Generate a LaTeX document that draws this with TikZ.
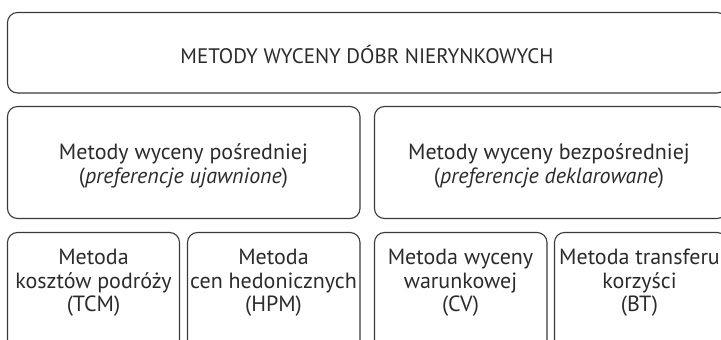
\documentclass[tikz,border=0pt]{standalone}
\usepackage{fontspec}
\setmainfont{PT Sans}
\definecolor{linegray}{HTML}{3A3A3A}
\definecolor{textgray}{HTML}{2B2B2B}
\begin{document}
\begin{tikzpicture}[x=1pt,y=-1pt,
  box/.style={draw=linegray, line width=1.1pt, rounded corners=10pt, inner sep=0pt, outer sep=0pt, anchor=north west},
  txt/.style={text=textgray, font=\fontsize{22}{23.5}\selectfont, align=center, inner sep=0pt},
  title/.style={text=textgray, font=\fontsize{21}{24}\selectfont, inner sep=0pt}]
\useasboundingbox (0,0) rectangle (721,340);
\clip (0,0) rectangle (721,340);
% boxes
\node[box, minimum width=719.5pt, minimum height=80.5pt] (top) at (7.5,12.5) {};
\node[box, minimum width=352.5pt, minimum height=112pt] (ind) at (7.5,106.5) {};
\node[box, minimum width=352.5pt, minimum height=112pt] (dir) at (374.5,106.5) {};
\node[box, minimum width=172pt, minimum height=120pt] (tcm) at (7.5,232.5) {};
\node[box, minimum width=172.5pt, minimum height=120pt] (hpm) at (187.5,232.5) {};
\node[box, minimum width=172.5pt, minimum height=120pt] (cv) at (374.5,232.5) {};
\node[box, minimum width=172.5pt, minimum height=120pt] (bt) at (554.5,232.5) {};
% texts
\node[title] (ttop) at (367,54.5) {METODY WYCENY DÓBR NIERYNKOWYCH};
\node[txt] (tind) at (183.5,166) {Metody wyceny pośredniej\\(\textit{preferencje ujawnione})};
\node[txt] (tdir) at (549,166) {Metody wyceny bezpośredniej\\(\textit{preferencje deklarowane})};
\node[txt] (ttcm) at (93.5,283) {Metoda\\kosztów podróży\\(TCM)};
\node[txt] (thpm) at (273.5,283) {Metoda\\cen hedonicznych\\(HPM)};
\node[txt] (tcv) at (460.5,283) {Metoda wyceny\\warunkowej\\(CV)};
\node[txt] (tbt) at (639.5,283) {Metoda transferu\\korzyści\\(BT)};
\end{tikzpicture}
\end{document}
